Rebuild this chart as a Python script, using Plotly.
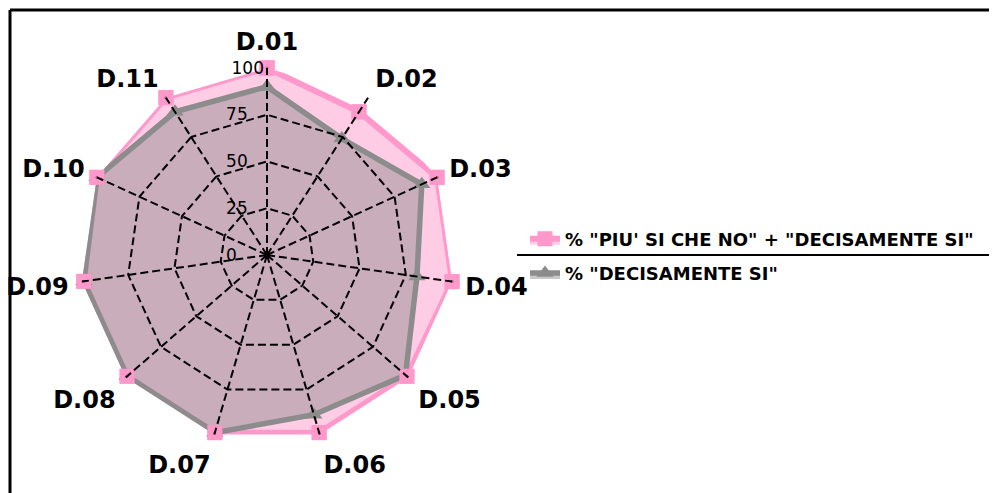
import plotly.graph_objects as go

categories = ["D.01", "D.02", "D.03", "D.04", "D.05", "D.06", "D.07", "D.08", "D.09", "D.10", "D.11"]
piu_si = [100, 91, 100, 100, 99, 99, 99, 99, 99, 100, 100]
decisamente_si = [90, 74, 91, 81, 98, 89, 99, 99, 99, 100, 91]
radial_ticks = [0, 25, 50, 75, 100]
radial_labels = ["0", "25", "50", "75", "100"]
name_pink = '% "PIU\' SI CHE NO" + "DECISAMENTE SI"'
name_grey = '% "DECISAMENTE SI"'

def closed(v):
    return list(v) + [v[0]]

theta = closed(categories)

fig = go.Figure()
fig.add_trace(go.Scatterpolar(
    r=closed(piu_si), theta=theta, name=name_pink, mode="lines+markers",
    legendgroup="a",
    fill="toself", fillcolor="rgba(255,153,204,0.5)",
    line=dict(color="#ff99cc", width=6),
    marker=dict(symbol="square", size=15, color="#ff99cc"),
))
fig.add_trace(go.Scatterpolar(
    r=closed(decisamente_si), theta=theta, name=name_grey, mode="lines+markers",
    legendgroup="b",
    fill="toself", fillcolor="rgba(136,136,136,0.45)",
    line=dict(color="#8c8c8c", width=5.5),
    marker=dict(symbol="triangle-up", size=15, color="#8c8c8c"),
))
fig.add_trace(go.Scatterpolar(
    r=piu_si, theta=categories, mode="markers", showlegend=False, hoverinfo="skip",
    marker=dict(symbol="square", size=15, color="#ff99cc"),
))
fig.add_trace(go.Scatterpolar(
    r=piu_si, theta=categories, mode="markers", showlegend=False, hoverinfo="skip",
    marker=dict(symbol="circle", size=3, color="#b86088"),
))
# empty trace on an overlaid polar subplot that only carries the grid and labels
fig.add_trace(go.Scatterpolar(
    r=[0] * len(categories), theta=categories, mode="markers", showlegend=False,
    hoverinfo="skip", marker=dict(size=1, opacity=0), subplot="polar2",
))

OFF = 8
W, H = 997 - OFF, 493 - OFF
cx, cy, R = 267 - OFF, 255 - OFF, 187
dom = dict(x=[(cx - R) / W, (cx + R) / W], y=[(H - cy - R) / H, (H - cy + R) / H])

common_ang = dict(direction="clockwise", rotation=90, showline=False,
                  categoryorder="array", categoryarray=categories)

# pad shorter labels so they sit left-aligned like the reference
NB = "\u00a0"
pad = {1: NB * 5, 2: NB * 3, 3: ""}
ticktext = [lab + pad[len(lab)] for lab in radial_labels]

fig.update_layout(
    width=W, height=H,
    margin=dict(l=0, r=0, t=0, b=0),
    paper_bgcolor="white", plot_bgcolor="white",
    font=dict(family="DejaVu Sans", color="black"),
    polar=dict(
        domain=dom, bgcolor="rgba(0,0,0,0)", gridshape="linear",
        radialaxis=dict(range=[0, 100], showgrid=False, showline=False, ticks="",
                        showticklabels=False, angle=90),
        angularaxis=dict(showgrid=False, ticks="", showticklabels=False, **common_ang),
    ),
    polar2=dict(
        domain=dom, bgcolor="rgba(0,0,0,0)", gridshape="linear",
        radialaxis=dict(
            range=[0, 100], tickvals=radial_ticks, ticktext=ticktext,
            angle=90, tickangle=90, side="counterclockwise", showline=False, ticks="",
            gridcolor="black", griddash="8px,4px", gridwidth=1.8,
            tickfont=dict(size=17, family="DejaVu Sans", color="black"),
        ),
        angularaxis=dict(
            ticks="outside", ticklen=8, tickcolor="rgba(0,0,0,0)",
            gridcolor="black", griddash="8px,4px", gridwidth=1.8,
            tickfont=dict(size=24, family="DejaVu Sans", color="black", weight="bold"),
            **common_ang,
        ),
    ),
    legend=dict(
        x=(525 - OFF) / W, y=1 - (256 - OFF) / H, xanchor="left", yanchor="middle",
        font=dict(size=18, family="DejaVu Sans", color="black", weight="bold"),
        bgcolor="rgba(0,0,0,0)", tracegroupgap=8,
    ),
    shapes=[
        dict(type="line", xref="paper", yref="paper", x0=(10 - OFF) / W, x1=1,
             y0=1 - (10 - OFF) / H, y1=1 - (10 - OFF) / H, line=dict(color="black", width=3)),
        dict(type="line", xref="paper", yref="paper", x0=(10 - OFF) / W, x1=(10 - OFF) / W,
             y0=0, y1=1 - (10 - OFF) / H, line=dict(color="black", width=3)),
        dict(type="line", xref="paper", yref="paper", x0=(517 - OFF) / W, x1=(990 - OFF) / W,
             y0=1 - (255 - OFF) / H, y1=1 - (255 - OFF) / H, line=dict(color="black", width=2)),
    ],
)

fig.write_html("out.html")
